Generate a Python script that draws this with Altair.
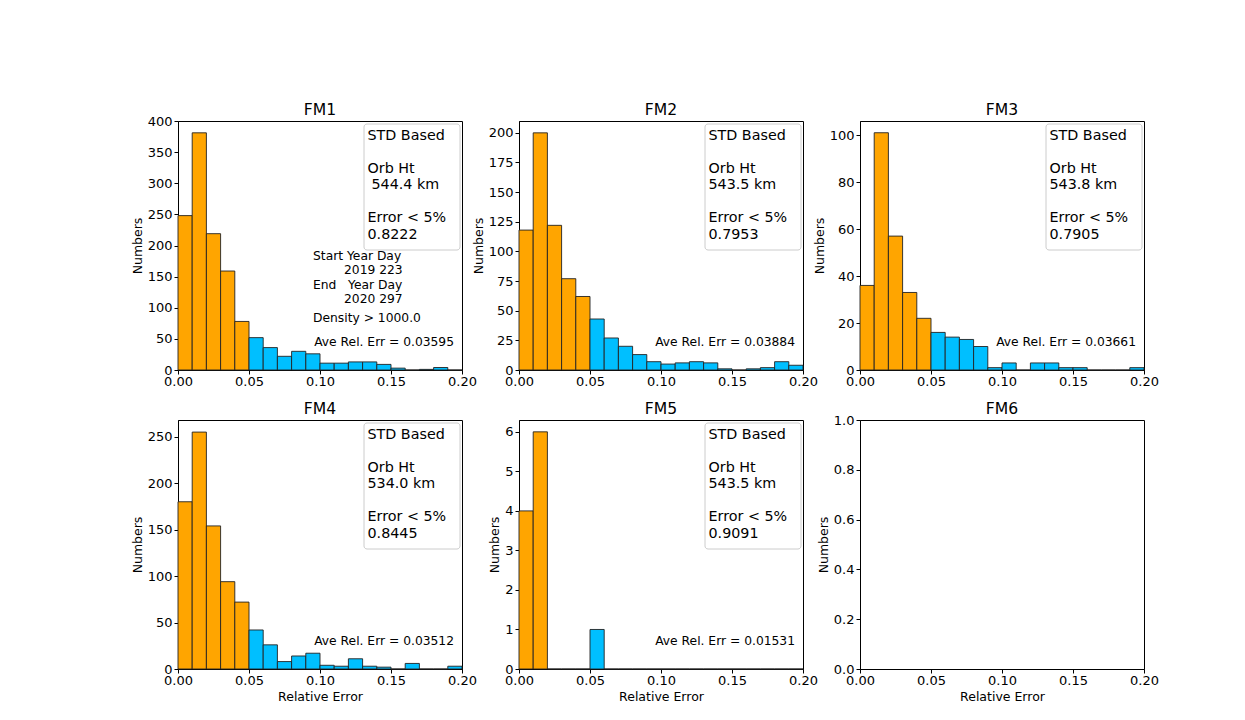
import altair as alt
import pandas as pd

FONT = "DejaVu Sans"

# ---- data ----
bin_starts = [0.00, 0.01, 0.02, 0.03, 0.04, 0.05, 0.06, 0.07, 0.08, 0.09,
              0.10, 0.11, 0.12, 0.13, 0.14, 0.15, 0.16, 0.17, 0.18, 0.19]
bin_width = 0.01
x_ticks = [0.0, 0.05, 0.10, 0.15, 0.20]

fm1 = [248, 381, 219, 159, 78, 52, 36, 22, 30, 26, 11, 11, 13, 13, 9, 3, 0, 1, 4, 0]
fm2 = [118, 200, 122, 77, 62, 43, 27, 20, 13, 7, 5, 6, 7, 6, 1, 0, 1, 2, 7, 4]
fm3 = [36, 101, 57, 33, 22, 16, 14, 13, 10, 1, 3, 0, 3, 3, 1, 1, 0, 0, 0, 1]
fm4 = [180, 255, 154, 94, 72, 42, 26, 8, 14, 17, 4, 3, 11, 3, 2, 0, 6, 0, 0, 3]
fm5 = [4, 6, 0, 0, 0, 1, 0, 0, 0, 0, 0, 0, 0, 0, 0, 0, 0, 0, 0, 0]
fm6 = []

names = ["FM1", "FM2", "FM3", "FM4", "FM5", "FM6"]
orb_ht = ["544.4 km", "543.5 km", "543.8 km", "534.0 km", "543.5 km", None]
err_frac = ["0.8222", "0.7953", "0.7905", "0.8445", "0.9091", None]
ave_err = ["0.03595", "0.03884", "0.03661", "0.03512", "0.01531", None]
y_max = [400, 210, 106, 268, 6.3, 1.0]
y_ticks = [
    [0, 50, 100, 150, 200, 250, 300, 350, 400],
    [0, 25, 50, 75, 100, 125, 150, 175, 200],
    [0, 20, 40, 60, 80, 100],
    [0, 50, 100, 150, 200, 250],
    [0, 1, 2, 3, 4, 5, 6],
    [0.0, 0.2, 0.4, 0.6, 0.8, 1.0],
]
y_fmt = ["d", "d", "d", "d", "d", ".1f"]
extra_fm1 = ["Start Year Day", "2019 223", "End\u00a0\u00a0\u00a0Year Day", "2020 297",
             "Density > 1000.0"]

one = pd.DataFrame({"k": [0]})


def txt(s, x, y, size, align="left"):
    return alt.Chart(one).mark_text(align=align, baseline="alphabetic", font=FONT,
                                    fontSize=size, color="black", text=s).encode(
        x=alt.value(x), y=alt.value(y))


def panel(i, counts, bottom_row):
    n = len(counts)
    df = pd.DataFrame({
        "x0": bin_starts[:n],
        "x1": [b + bin_width for b in bin_starts[:n]],
        "count": counts,
        "grp": ["lt" if b < 0.0499 else "ge" for b in bin_starts[:n]],
    })
    xaxis = alt.Axis(values=x_ticks, format=".2f", labelFlush=False, labelOverlap=False,
                     grid=False, tickSize=4, labelPadding=1, titlePadding=3,
                     title="Relative Error" if bottom_row else None)
    yaxis = alt.Axis(values=y_ticks[i], format=y_fmt[i], grid=False, tickSize=4,
                     labelPadding=2, titlePadding=3, title="Numbers", labelOverlap=False)
    bars = alt.Chart(df).mark_rect(stroke="#222222", strokeWidth=0.9).encode(
        x=alt.X("x0:Q", scale=alt.Scale(domain=[0, 0.2], nice=False, zero=False), axis=xaxis),
        x2="x1:Q",
        y=alt.Y("count:Q", scale=alt.Scale(domain=[0, y_max[i]], nice=False), axis=yaxis),
        y2=alt.datum(0),
        color=alt.Color("grp:N", scale=alt.Scale(domain=["lt", "ge"], range=["#FFA500", "#00BFFF"]),
                        legend=None),
    )
    layers = [bars, txt(names[i], 142, -6, 15.6, align="center")]
    if orb_ht[i] is not None:
        box = alt.Chart(one).mark_rect(fill="white", stroke="#cccccc", strokeWidth=1,
                                       cornerRadius=3).encode(
            x=alt.value(186), x2=alt.value(282), y=alt.value(3), y2=alt.value(129))
        layers += [
            box,
            txt("STD Based", 189.5, 18.5, 14.3),
            txt("Orb Ht", 189.5, 51.5, 14.3),
            txt(orb_ht[i], 189.5 + (4 if i == 0 else 0), 68, 14.3),
            txt("Error < 5%", 189.5, 101, 14.3),
            txt(err_frac[i], 189.5, 117.5, 14.3),
            txt("Ave Rel. Err = " + ave_err[i], 276, 225, 12.3, align="right"),
        ]
    if i == 0:
        layers += [
            txt(extra_fm1[0], 135, 139, 12.3),
            txt(extra_fm1[1], 166, 153.4, 12.3),
            txt(extra_fm1[2], 135, 167.8, 12.3),
            txt(extra_fm1[3], 166, 182.2, 12.3),
            txt(extra_fm1[4], 135, 200.5, 12.3),
        ]
    return alt.layer(*layers).properties(width=284, height=249)


series = [fm1, fm2, fm3, fm4, fm5, fm6]
panels = [panel(i, series[i], i >= 3) for i in range(6)]

chart = alt.concat(*panels, columns=3, spacing={"row": 50, "column": 57},
                   bounds="flush").properties(
    padding={"left": 130, "top": 102, "right": 5, "bottom": 5},
    background="white",
).configure_view(
    stroke="black", strokeWidth=1
).configure_axis(
    domainColor="black", tickColor="black", labelColor="black", titleColor="black",
    labelFont=FONT, titleFont=FONT, labelFontSize=13, titleFontSize=12.5,
    titleFontWeight="normal", domainWidth=1, tickWidth=1,
)

chart.save("out.html", embed_options={"renderer": "svg", "actions": False})
